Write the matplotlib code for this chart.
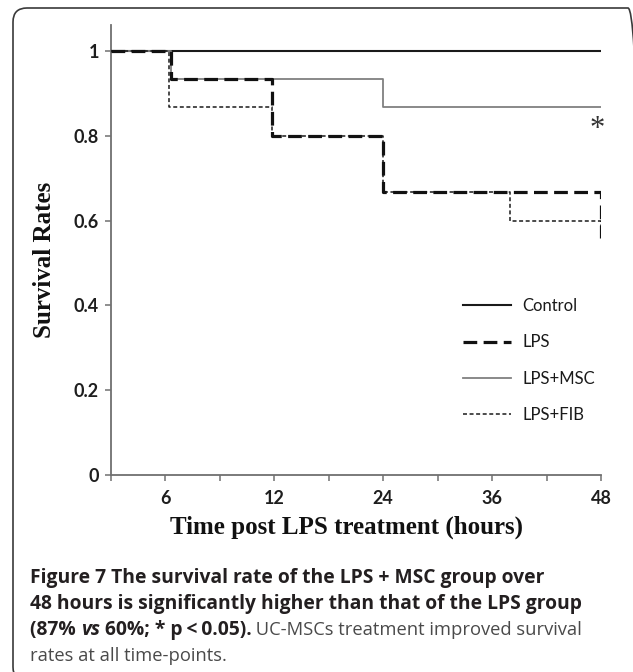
import numpy as np
import matplotlib
matplotlib.use('Agg')
import matplotlib.pyplot as plt
from matplotlib.patches import FancyBboxPatch
from matplotlib.transforms import IdentityTransform

W, H, DPI = 633, 672, 100

# ---------------- data ----------------
hour_knots = [0, 6, 12, 24, 36, 48]          # hours
axis_slots = [0, 1, 3, 5, 7, 9]              # evenly spaced tick slots on the axis
tick_hours = [0, 6, 9, 12, 18, 24, 30, 36, 42, 48]
tick_labels = ['', '6', '', '12', '', '24', '', '36', '', '48']
y_ticks = [0, 0.2, 0.4, 0.6, 0.8, 1.0]
y_tick_labels = ['0', '0.2', '0.4', '0.6', '0.8', '1']

control_t = [0, 48]
control_s = [1.0, 1.0]
lps_t = [0, 6.3, 11.9, 24, 48]
lps_s = [1.0, 0.933, 0.8, 0.667, 0.56]
msc_t = [0, 6.3, 24, 48]
msc_s = [1.0, 0.933, 0.867, 0.867]
fib_t = [0, 6.2, 11.9, 24, 38, 48]
fib_s = [1.0, 0.867, 0.8, 0.667, 0.6, 0.56]

series_names = ['Control', 'LPS', 'LPS+MSC', 'LPS+FIB']

caption_l1 = "Figure 7 The survival rate of the LPS + MSC group over"
caption_l2 = "48 hours is significantly higher than that of the LPS group"
caption_l3 = [("(87% ", 'b'), ("vs", 'bi'), (" 60%; * p\u2009<\u20090.05).", 'b'),
              (" UC-MSCs treatment improved survival", 'r')]
caption_l4 = "rates at all time-points."

# ---------------- scale ----------------
hk = np.array(hour_knots, float)
sl = np.array(axis_slots, float)


def fwd(h):
    h = np.asarray(h, float)
    out = np.interp(h, hk, sl)
    lo = h < hk[0]
    hi = h > hk[-1]
    out = np.where(lo, sl[0] + (h - hk[0]) * (sl[1] - sl[0]) / (hk[1] - hk[0]), out)
    out = np.where(hi, sl[-1] + (h - hk[-1]) * (sl[-1] - sl[-2]) / (hk[-1] - hk[-2]), out)
    return out


def inv(s):
    s = np.asarray(s, float)
    out = np.interp(s, sl, hk)
    lo = s < sl[0]
    hi = s > sl[-1]
    out = np.where(lo, hk[0] + (s - sl[0]) * (hk[1] - hk[0]) / (sl[1] - sl[0]), out)
    out = np.where(hi, hk[-1] + (s - sl[-1]) * (hk[-1] - hk[-2]) / (sl[-1] - sl[-2]), out)
    return out


fig = plt.figure(figsize=(W / DPI, H / DPI), dpi=DPI)
fig.patch.set_facecolor('white')

# outer rounded frame (pixel coordinates)
frame = FancyBboxPatch((13, H - 681), 642 - 13, 681 - 8,
                       boxstyle="round,pad=0,rounding_size=14",
                       transform=IdentityTransform(), facecolor='none',
                       edgecolor='#3a3a3a', linewidth=1.2)
fig.add_artist(frame)

ax_l, ax_r, ax_b, ax_t = 110.7, 601.0, 475.0, 25.0
ax = fig.add_axes([ax_l / W, 1 - ax_b / H, (ax_r - ax_l) / W, (ax_b - ax_t) / H])
ax.set_xscale('function', functions=(fwd, inv))
ax.set_xlim(0, 48)
ax.set_ylim(0, (ax_b - ax_t) / 424.0)

l_ctrl, = ax.plot(control_t, control_s, drawstyle='steps-post', color='#1a1a1a', lw=1.5, zorder=3)
l_msc, = ax.plot(msc_t, msc_s, drawstyle='steps-post', color='#808080', lw=1.3, zorder=3)
l_fib, = ax.plot(fib_t, fib_s, drawstyle='steps-post', color='#1a1a1a', lw=1.1,
                 linestyle=(0, (2.6, 1.7)), zorder=4)
l_lps, = ax.plot(lps_t, lps_s, drawstyle='steps-post', color='#111111', lw=2.3,
                 linestyle=(0, (4.3, 2.0)), zorder=5)

for side in ['top', 'right']:
    ax.spines[side].set_visible(False)
for side in ['left', 'bottom']:
    ax.spines[side].set_color('#707070')
    ax.spines[side].set_linewidth(1.3)

tick_font = dict(family=['Lato', 'DejaVu Sans'], weight='bold', size=13)
ax.set_xticks(tick_hours)
ax.set_xticklabels(tick_labels, **tick_font)
ax.set_yticks(y_ticks)
ax.set_yticklabels(y_tick_labels, **tick_font)
ax.xaxis.set_minor_locator(matplotlib.ticker.NullLocator())
ax.tick_params(axis='both', direction='out', length=4.5, width=1.1, color='#707070',
               labelcolor='#1e1e1e')
ax.tick_params(axis='x', pad=6)
ax.tick_params(axis='y', pad=4)

ax.text(47.6, 0.815, '*', fontsize=22, family=['Liberation Serif', 'DejaVu Serif'],
        ha='center', va='center', color='#333333')

leg = ax.legend([l_ctrl, l_lps, l_msc, l_fib], series_names, frameon=False,
                loc='upper left', bbox_to_anchor=(463 / W, 1 - 298 / H),
                bbox_transform=fig.transFigure, borderpad=0, borderaxespad=0,
                handlelength=2.9, handletextpad=0.65, labelspacing=1.22,
                prop=dict(family=['Lato', 'DejaVu Sans'], size=12))
for t in leg.get_texts():
    t.set_color('#1a1a1a')

lab_font = dict(family=['Liberation Serif', 'DejaVu Serif'], weight='bold', size=18)
fig.text(45 / W, 1 - 260 / H, 'Survival Rates', rotation=90, ha='center', va='center',
         color='#111111', **lab_font)
fig.text(347 / W, 1 - 527 / H, 'Time post LPS treatment (hours)', ha='center', va='center',
         color='#111111', **lab_font)

# ---------------- caption ----------------
fig.canvas.draw()
renderer = fig.canvas.get_renderer()
cap_family = ['Open Sans', 'DejaVu Sans']
styles = {
    'b': dict(family=cap_family, weight='bold', color='#231f20'),
    'bi': dict(family=cap_family, weight='bold', style='italic', color='#231f20'),
    'r': dict(family=cap_family, weight='normal', color='#4a4a4a'),
}


def text_width(s, size, st):
    t1 = fig.text(0, 0, 'I' + s + 'I', size=size, **styles[st])
    t2 = fig.text(0, 0, 'II', size=size, **styles[st])
    w = t1.get_window_extent(renderer).width - t2.get_window_extent(renderer).width
    t1.remove()
    t2.remove()
    return w


w10 = text_width(caption_l1, 10, 'b')
cap_size = 10 * 515.0 / w10
sizes = {'b': cap_size, 'bi': cap_size, 'r': cap_size * 0.955}


def place_runs(x0, baseline, runs):
    x = x0
    for s, st in runs:
        fig.text(x / W, 1 - baseline / H, s, size=sizes[st], ha='left', va='baseline', **styles[st])
        x += text_width(s, sizes[st], st)


cx = 30
place_runs(cx, 583, [(caption_l1, 'b')])
place_runs(cx, 609, [(caption_l2, 'b')])
place_runs(cx, 635, caption_l3)
place_runs(cx, 661, [(caption_l4, 'r')])

fig.savefig('out.png', dpi=DPI, facecolor='white')
